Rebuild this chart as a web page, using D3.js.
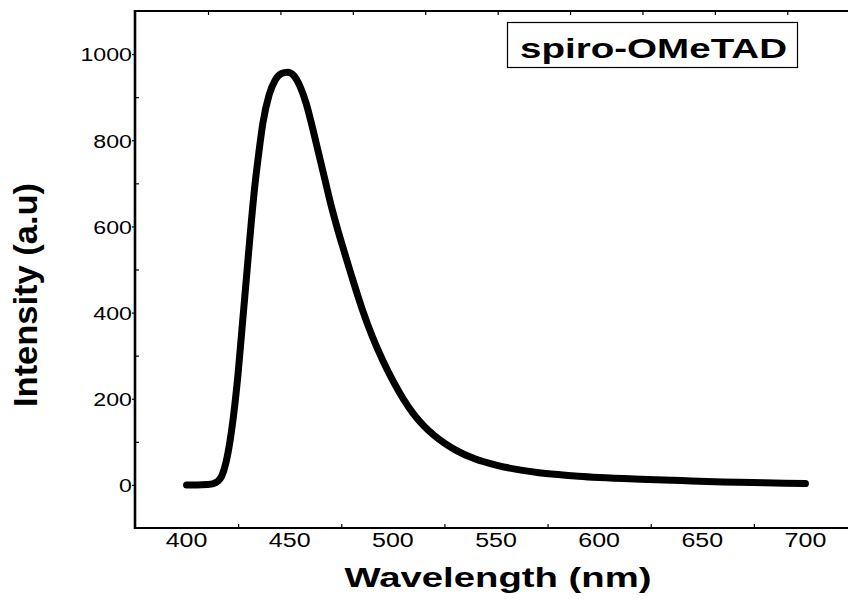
<!DOCTYPE html>
<html>
<head>
<meta charset="utf-8">
<script src="https://cdn.jsdelivr.net/npm/d3@7"></script>
<style>
  body { margin: 0; background: #fff; }
  text { font-family: "Liberation Sans", Arial, sans-serif; fill: #000; }
</style>
</head>
<body>
<div id="chart"></div>
<script>
// PL spectrum
const wavelength = [400, 405, 410, 413, 415, 417, 419, 421, 423, 425, 427, 429, 431, 433, 435, 437, 440, 443, 446, 449,
                    452, 455, 458, 461, 464, 467, 470, 473, 476, 480, 485, 490, 495, 500, 505, 510, 515, 520, 525, 530,
                    540, 550, 560, 570, 580, 590, 600, 620, 640, 660, 680, 700];
const intensity = [0, 0, 1, 3, 8, 20, 50, 100, 170, 260, 370, 480, 590, 690, 770, 840, 905, 940, 955, 958,
                   950, 925, 885, 830, 770, 710, 650, 597, 548, 485, 410, 345, 290, 242, 200, 165, 137, 115, 97, 82,
                   60, 46, 36, 29, 24, 20, 17, 13, 10, 7, 5, 3];

const xLabelTicks = [400, 450, 500, 550, 600, 650, 700];
const xMinorTicks = [425, 475, 525, 575, 625, 675, 725];
const topTicks = [410.4, 445.5, 480.6, 515.7, 550.8, 585.9, 621.0, 656.1, 691.2];
const yLabelTicks = [0, 200, 400, 600, 800, 1000];
const yMinorTicks = [100, 300, 500, 700, 900];
const legendLabel = "spiro-OMeTAD";

const width = 848,
      height = 599,
      margin = ({ top: 11, right: -9, bottom: 71, left: 135 });

const data = wavelength.map((w, i) => ({ w: w, v: intensity[i] }));

const svg = d3.select("#chart")
  .append("svg")
  .attr("width", width)
  .attr("height", height)
  .attr("viewBox", [0, 0, width, height]);

const x = d3.scaleLinear()
  .domain([375, 725])
  .range([margin.left, width - margin.right]);

const y = d3.scaleLinear()
  .domain([-100, 1100])
  .range([height - margin.bottom, margin.top]);

// frame lines
svg.append("line")
  .attr("x1", margin.left).attr("x2", width)
  .attr("y1", y(-100)).attr("y2", y(-100))
  .attr("stroke", "#000").attr("stroke-width", 2.2);
svg.append("line")
  .attr("x1", margin.left).attr("x2", width)
  .attr("y1", y(1100)).attr("y2", y(1100))
  .attr("stroke", "#000").attr("stroke-width", 2);
svg.append("line")
  .attr("x1", margin.left).attr("x2", margin.left)
  .attr("y1", y(1100) - 1).attr("y2", y(-100) + 1)
  .attr("stroke", "#000").attr("stroke-width", 2.6);

// bottom axis: minor ticks inward, labels without ticks
svg.append("g")
  .attr("transform", `translate(0,${y(-100)})`)
  .call(d3.axisBottom(x).tickValues(xMinorTicks).tickSize(-4).tickFormat(""))
  .call(g => g.select(".domain").remove())
  .call(g => g.selectAll("line").attr("stroke-width", 1.2));

svg.append("g")
  .selectAll("text")
  .data(xLabelTicks)
  .join("text")
  .attr("transform", d => `translate(${x(d)},547) scale(1.25,1)`)
  .attr("text-anchor", "middle")
  .attr("font-size", 20)
  .text(d => d);

// top ticks
svg.append("g")
  .attr("transform", `translate(0,${y(1100)})`)
  .call(d3.axisTop(x).tickValues(topTicks).tickSize(-4).tickFormat(""))
  .call(g => g.select(".domain").remove())
  .call(g => g.selectAll("line").attr("stroke-width", 1.2));

// left axis
svg.append("g")
  .attr("transform", `translate(${margin.left},0)`)
  .call(d3.axisLeft(y).tickValues(yMinorTicks).tickSize(-4).tickFormat(""))
  .call(g => g.select(".domain").remove())
  .call(g => g.selectAll("line").attr("stroke-width", 1.2));

svg.append("g")
  .attr("transform", `translate(${margin.left},0)`)
  .call(d3.axisLeft(y).tickValues(yLabelTicks).tickFormat(d3.format("d")).tickSize(3).tickPadding(0))
  .call(g => g.select(".domain").remove())
  .call(g => g.selectAll("line").attr("stroke-width", 1.2))
  .call(g => g.selectAll("text")
    .attr("x", null)
    .attr("dy", "0.36em")
    .attr("font-size", 19)
    .attr("font-family", "Liberation Sans, Arial, sans-serif")
    .attr("transform", "translate(-3,0) scale(1.22,1)"));

// spectrum
const line = d3.line()
  .x(d => x(d.w))
  .y(d => y(d.v))
  .curve(d3.curveMonotoneX);

svg.append("path")
  .datum(data)
  .attr("fill", "none")
  .attr("stroke", "#000")
  .attr("stroke-width", 7)
  .attr("stroke-linecap", "round")
  .attr("stroke-linejoin", "round")
  .attr("d", line);

// axis titles
svg.append("text")
  .attr("x", 498)
  .attr("y", 587)
  .attr("text-anchor", "middle")
  .attr("font-size", 28)
  .attr("font-weight", "bold")
  .attr("textLength", 307)
  .attr("lengthAdjust", "spacingAndGlyphs")
  .text("Wavelength (nm)");

svg.append("text")
  .attr("transform", "translate(37,295) rotate(-90)")
  .attr("text-anchor", "middle")
  .attr("font-size", 34)
  .attr("font-weight", "bold")
  .attr("textLength", 224)
  .attr("lengthAdjust", "spacingAndGlyphs")
  .text("Intensity (a.u)");

// legend box
const legend = svg.append("g");
legend.append("rect")
  .attr("x", 507.5)
  .attr("y", 22.5)
  .attr("width", 290)
  .attr("height", 45)
  .attr("fill", "#fff")
  .attr("stroke", "#000")
  .attr("stroke-width", 1.2);
legend.append("text")
  .attr("x", 520)
  .attr("y", 58)
  .attr("font-size", 28)
  .attr("font-weight", "bold")
  .attr("textLength", 267)
  .attr("lengthAdjust", "spacingAndGlyphs")
  .text(legendLabel);
</script>
</body>
</html>
